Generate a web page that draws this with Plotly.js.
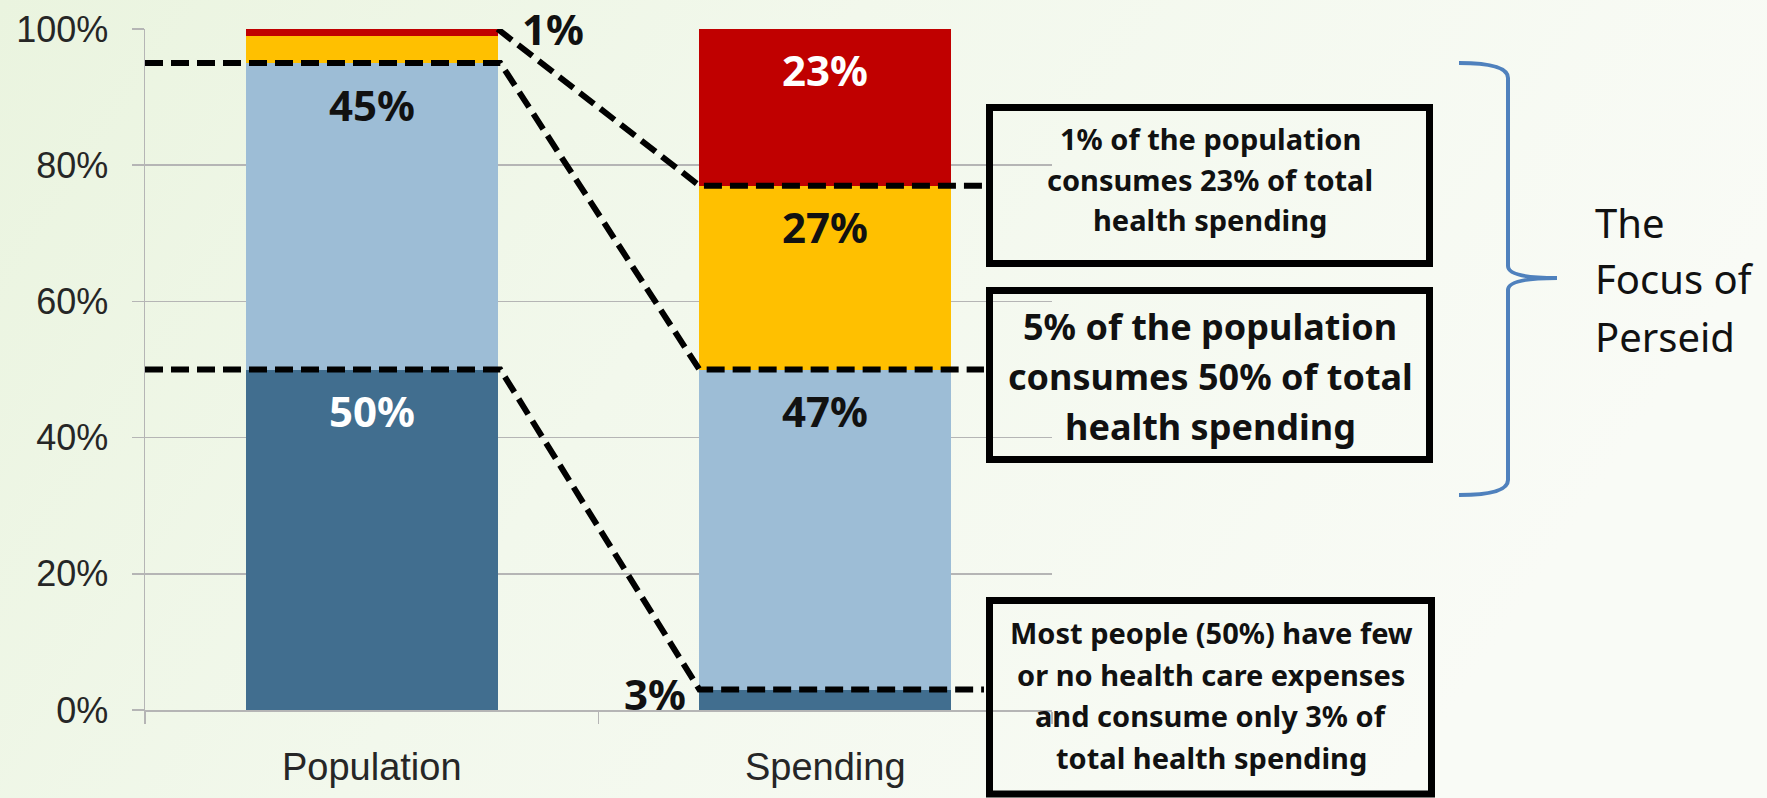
<!DOCTYPE html>
<html>
<head>
<meta charset="utf-8">
<script src="https://cdn.plot.ly/plotly-3.0.1.min.js"></script>
<style>html,body{margin:0;padding:0;background:#f3f8ec;}#chart{width:1767px;height:798px;}</style>
</head>
<body>
<div id="chart"></div>
<script>
// ---- data ----
const categories = ['Population', 'Spending'];
const seriesNames = ['Bottom 50% of population', 'Next 45% of population', 'Next 4% of population', 'Top 1% of population'];
const bottom50 = [50, 3];
const next45 = [45, 47];
const next4 = [4, 27];
const top1 = [1, 23];
const yTickVals = [0, 20, 40, 60, 80, 100];
const yTickText = ['0%', '20%', '40%', '60%', '80%', '100%'];
const box1Lines = ['1% of the population', 'consumes 23% of total', 'health spending'];
const box2Lines = ['5% of the population', 'consumes 50% of total', 'health spending'];
const box3Lines = ['Most people (50%) have few', 'or no health care expenses', 'and consume only 3% of', 'total health spending'];
const focusLines = ['The', 'Focus of', 'Perseid'];

// ---- styling ----
const seriesValues = [bottom50, next45, next4, top1];
const seriesColors = ['#416E8F', '#9DBDD6', '#FFC000', '#C00000'];
const labelColors = ['#ffffff', '#111111', '#111111', '#ffffff'];
const BAR_W = 0.555;
const catIdx = categories.map((c, i) => i);

// pixel frame (paper = whole figure since margins are 0)
const W = 1767, H = 798;
const PL = 145, PR = 1052, PT = 29, PB = 710;
const pxX = px => px / W;
const pxY = py => (H - py) / H;
const P = (x, y) => pxX(x) + ',' + pxY(y);

// cumulative tops per category
const cum = categories.map((c, ci) => {
  let s = 0;
  return seriesValues.map(v => (s += v[ci]));
});
const popCum = cum[0], spendCum = cum[1];

const traces = seriesValues.map((vals, si) => ({
  type: 'bar',
  name: seriesNames[si],
  x: catIdx,
  y: vals,
  width: BAR_W,
  marker: {color: seriesColors[si], line: {width: 0}},
  textposition: 'none',
  hoverinfo: 'skip'
}));

const annotations = [];
// inside-end value labels for the large segments
seriesValues.forEach((vals, si) => {
  vals.forEach((v, ci) => {
    if (v >= 10) {
      annotations.push({
        xref: 'x', yref: 'y', x: catIdx[ci], y: cum[ci][si], yshift: -41,
        text: '<b>' + v + '%</b>', showarrow: false, xanchor: 'center', yanchor: 'middle',
        font: {family: 'Noto Sans', size: 42, color: labelColors[si]}
      });
    }
  });
});
// outside labels for small segments
annotations.push({
  xref: 'x', yref: 'y', x: catIdx[0] + 0.40, y: popCum[3], yshift: 0,
  text: '<b>' + top1[0] + '%</b>', showarrow: false, xanchor: 'center', yanchor: 'middle',
  font: {family: 'Noto Sans', size: 42, color: '#111111'}
});
annotations.push({
  xref: 'x', yref: 'y', x: catIdx[1] - 0.375, y: spendCum[0], yshift: -4,
  text: '<b>' + bottom50[1] + '%</b>', showarrow: false, xanchor: 'center', yanchor: 'middle',
  font: {family: 'Noto Sans', size: 42, color: '#111111'}
});

function addLines(lines, cx, ys, size, bold, anchor) {
  lines.forEach((t, i) => {
    annotations.push({
      xref: 'paper', yref: 'paper', x: pxX(cx), y: pxY(ys[i]),
      text: bold ? '<b>' + t + '</b>' : t, showarrow: false,
      xanchor: anchor || 'center', yanchor: 'middle',
      font: {family: 'Noto Sans', size: size, color: '#111111'}
    });
  });
}
addLines(box1Lines, 1210, [138, 179, 219.5], 29, true);
addLines(box2Lines, 1210, [326, 376, 426], 36, true);
addLines(box3Lines, 1211, [632, 674, 715.5, 757], 29, true);
addLines(focusLines, 1593, [222.5, 278, 337], 40, false, 'left');

// connector lines (data coordinates)
const popR = catIdx[0] + BAR_W / 2 + 0.006;
const spendL = catIdx[1] - BAR_W / 2;
const boxL = 1.35;
const xLeft = -0.5;
const dashStyle = {color: '#000000', width: 6, dash: '18px,8px'};
const shapes = [
  {type: 'path', xref: 'x', yref: 'y', line: dashStyle,
   path: `M ${catIdx[0] + BAR_W / 2},${popCum[3]} L ${spendL},${spendCum[2]} L ${boxL},${spendCum[2]}`},
  {type: 'path', xref: 'x', yref: 'y', line: dashStyle,
   path: `M ${xLeft},${popCum[1]} L ${popR},${popCum[1]} L ${spendL},${spendCum[1]} L ${boxL},${spendCum[1]}`},
  {type: 'path', xref: 'x', yref: 'y', line: dashStyle,
   path: `M ${xLeft},${popCum[0]} L ${popR},${popCum[0]} L ${spendL},${spendCum[0]} L ${boxL},${spendCum[0]}`}
];
// callout boxes
const boxStyle = {color: '#000000', width: 7};
[[989.5, 1429.5, 107.5, 263.5], [989.5, 1429.5, 290.5, 459.5], [989.5, 1431.5, 600.5, 794]].forEach(b => {
  shapes.push({type: 'rect', xref: 'paper', yref: 'paper', x0: pxX(b[0]), x1: pxX(b[1]),
    y0: pxY(b[3]), y1: pxY(b[2]), line: boxStyle, fillcolor: 'rgba(0,0,0,0)'});
});
// brace
shapes.push({type: 'path', xref: 'paper', yref: 'paper', line: {color: '#4F81BD', width: 4},
  path: `M ${P(1459, 63)} Q ${P(1508, 63)} ${P(1508, 78)} L ${P(1508, 266)} Q ${P(1508, 278)} ${P(1557, 278)} Q ${P(1508, 278)} ${P(1508, 290)} L ${P(1508, 480)} Q ${P(1508, 495)} ${P(1459, 495)}`});

// soft slide background
const bgSvg = "<svg xmlns='http://www.w3.org/2000/svg' width='1767' height='798'>" +
  "<defs><linearGradient id='g' x1='0' y1='0' x2='1' y2='0.3'>" +
  "<stop offset='0' stop-color='#eaf4df'/><stop offset='0.45' stop-color='#f2f8ec'/>" +
  "<stop offset='1' stop-color='#f9fbf6'/></linearGradient></defs>" +
  "<rect width='1767' height='798' fill='url(#g)'/></svg>";

const axisGrey = '#b5b5b5';
const layout = {
  width: W, height: H,
  margin: {l: 0, r: 0, t: 0, b: 0},
  paper_bgcolor: '#f3f8ec',
  plot_bgcolor: 'rgba(0,0,0,0)',
  barmode: 'stack',
  showlegend: false,
  images: [{
    source: 'data:image/svg+xml;base64,' + btoa(bgSvg),
    xref: 'paper', yref: 'paper', x: 0, y: 1, sizex: 1, sizey: 1,
    xanchor: 'left', yanchor: 'top', sizing: 'stretch', layer: 'below'
  }],
  xaxis: {
    domain: [PL / W, PR / W], range: [-0.5, 1.5], type: 'linear',
    tickmode: 'array', tickvals: catIdx, ticktext: categories, ticks: '',
    showline: true, linecolor: axisGrey, linewidth: 1.5, showgrid: false, zeroline: false,
    tickfont: {family: 'Liberation Sans, Arial, sans-serif', size: 38, color: '#262626'},
    ticklabelstandoff: 23,
    minor: {tickmode: 'array', tickvals: [-0.5, 0.5, 1.5], ticks: 'outside', ticklen: 12, tickcolor: axisGrey, tickwidth: 1.5, showgrid: false},
    fixedrange: true
  },
  yaxis: {
    domain: [(H - PB) / H, (H - PT) / H], range: [0, 100],
    tickmode: 'array', tickvals: yTickVals, ticktext: yTickText,
    ticks: 'outside', ticklen: 12, tickcolor: axisGrey, tickwidth: 1.5,
    showline: true, linecolor: axisGrey, linewidth: 1.5,
    showgrid: true, gridcolor: axisGrey, gridwidth: 1.5, zeroline: false,
    tickfont: {family: 'Liberation Sans, Arial, sans-serif', size: 36, color: '#262626'},
    ticklabelstandoff: 16,
    fixedrange: true
  },
  shapes: shapes,
  annotations: annotations
};

Plotly.newPlot('chart', traces, layout, {displayModeBar: false, staticPlot: true});
</script>
</body>
</html>
